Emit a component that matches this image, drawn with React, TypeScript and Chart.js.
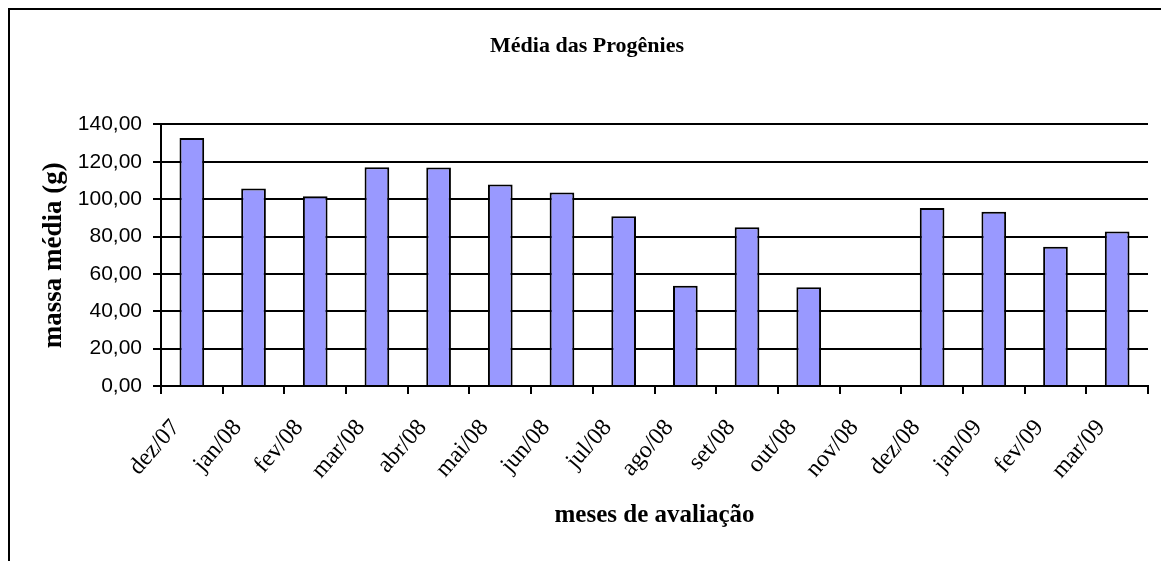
import { useEffect, useRef } from 'react';
import { Chart, registerables } from 'chart.js';

Chart.register(...registerables);

const categories = [
  'dez/07', 'jan/08', 'fev/08', 'mar/08', 'abr/08', 'mai/08', 'jun/08', 'jul/08',
  'ago/08', 'set/08', 'out/08', 'nov/08', 'dez/08', 'jan/09', 'fev/09', 'mar/09',
];
const massaMedia: (number | null)[] = [
  132.7, 105.7, 101.6, 117.1, 116.9, 107.9, 103.6, 90.9,
  53.6, 84.9, 52.8, null, 95.3, 93.2, 74.5, 82.7,
];
const yMin = 0;
const yMax = 140;
const yStep = 20;

const chartTitle = 'Média das Progênies';
const xTitle = 'meses de avaliação';
const yTitle = 'massa média (g)';

const W = 1161;
const H = 561;

export default function App() {
  const ref = useRef<HTMLCanvasElement>(null);

  useEffect(() => {
    if (!ref.current) return;
    const frame = {
      id: 'frame',
      beforeDraw(chart: any) {
        const c = chart.ctx;
        c.save();
        c.fillStyle = '#ffffff';
        c.fillRect(0, 0, W, H);
        c.fillStyle = '#000000';
        c.fillRect(8, 8, W - 8, 2);
        c.fillRect(8, 8, 2, H - 8);
        c.restore();
      },
    };
    const chart = new Chart(ref.current, {
      type: 'bar',
      data: {
        labels: categories,
        datasets: [
          {
            data: massaMedia,
            backgroundColor: '#9999FF',
            borderColor: '#000000',
            borderWidth: 2,
            barPercentage: 0.4,
            categoryPercentage: 1,
          },
        ],
      },
      options: {
        responsive: false,
        animation: false,
        layout: { padding: { left: 26, right: 13, top: 10, bottom: 0 } },
        plugins: {
          legend: { display: false },
          tooltip: { enabled: false },
          title: {
            display: true,
            text: chartTitle,
            color: '#000',
            font: { family: 'Liberation Serif', size: 22, weight: 'bold' },
            padding: { top: 23, bottom: 65 },
          },
        },
        scales: {
          x: {
            grid: {
              drawOnChartArea: false,
              drawTicks: true,
              tickLength: 8,
              color: '#000',
              lineWidth: 2,
              offset: true,
            },
            border: { color: '#000', width: 2 },
            ticks: {
              color: '#000',
              font: { family: 'Liberation Serif', size: 24 },
              maxRotation: 49,
              minRotation: 49,
              autoSkip: false,
              padding: 20,
              labelOffset: -16,
            },
            title: {
              display: true,
              text: xTitle,
              color: '#000',
              font: { family: 'Liberation Serif', size: 25, weight: 'bold' },
              padding: { top: 0, bottom: 30 },
            },
            afterFit(s: any) {
              s.height = H - 386;
            },
          },
          y: {
            min: yMin,
            max: yMax,
            ticks: {
              stepSize: yStep,
              color: '#000',
              font: { family: 'Liberation Sans', size: 21 },
              padding: 11,
              callback: (v: any) => Number(v).toFixed(2).replace('.', ','),
            },
            grid: { color: '#000', lineWidth: 2, tickLength: 8 },
            border: { color: '#000', width: 2 },
            title: {
              display: true,
              text: yTitle,
              color: '#000',
              font: { family: 'Liberation Serif', size: 27, weight: 'bold' },
              padding: { top: 12, bottom: 0 },
            },
            afterFit(s: any) {
              s.width = 161 - 26;
            },
          },
        },
      },
      plugins: [frame],
    } as any);
    return () => chart.destroy();
  }, []);

  return (
    <div style={{ position: 'fixed', left: 0, top: 0, width: W, height: H, background: '#fff' }}>
      <canvas ref={ref} width={W} height={H} style={{ display: 'block' }} />
    </div>
  );
}
